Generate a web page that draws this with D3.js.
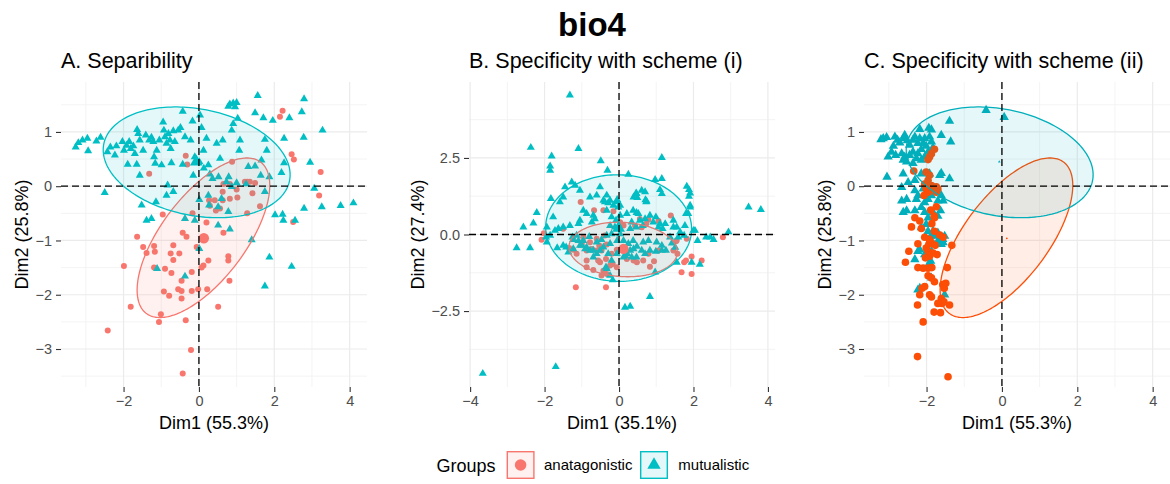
<!DOCTYPE html>
<html>
<head>
<meta charset="utf-8">
<script src="https://cdn.jsdelivr.net/npm/d3@7"></script>
<style>
  body { margin: 0; background: #fff; }
  svg { display: block; }
  text { font-family: "Liberation Sans", Arial, Helvetica, sans-serif; }
</style>
</head>
<body>
<svg id="chart" width="1170" height="484"></svg>
<script>
// ---------------------------------------------------------------
// Titles, groups and tick labels
// ---------------------------------------------------------------
const mainTitle = "bio4";
const groups = ["anatagonistic", "mutualistic"];
const panelTitles = ["A. Separibility", "B. Specificity with scheme (i)", "C. Specificity with scheme (ii)"];
const xTitles = ["Dim1 (55.3%)", "Dim1 (35.1%)", "Dim1 (55.3%)"];
const yTitles = ["Dim2 (25.8%)", "Dim2 (27.4%)", "Dim2 (25.8%)"];

const xTicksAC = [-2, 0, 2, 4];
const xTickLabelsAC = ["\u22122", "0", "2", "4"];
const yTicksAC = [-3, -2, -1, 0, 1];
const yTickLabelsAC = ["\u22123", "\u22122", "\u22121", "0", "1"];
const xTicksB = [-4, -2, 0, 2, 4];
const xTickLabelsB = ["\u22124", "\u22122", "0", "2", "4"];
const yTicksB = [-2.5, 0, 2.5];
const yTickLabelsB = ["\u22122.5", "0.0", "2.5"];

// ---------------------------------------------------------------
// Individuals on the first two dimensions (Dim1, Dim2)
// ---------------------------------------------------------------
// A: separability
const aAnt = [
  [2.22,1.39],[2.15,1.28],[2.46,0.59],[2.52,0.49],[3.23,0.26],[3.19,-0.17],[-0.35,0.56],[-0.31,0.40],
  [-1.32,0.23],[0.88,0.45],[1.28,0.08],[1.49,0.06],[1.22,0.08],[1.35,0.08],[0.65,0.04],[0.82,0.04],
  [1.0,-0.06],[0.63,-0.10],[1.42,-0.13],[0.42,-0.26],[0.63,-0.26],[0.82,-0.23],[1.02,-0.21],[0.27,-0.26],
  [0.29,-0.36],[0.56,-0.41],[0.45,-0.45],[1.62,-0.37],[1.28,-0.50],[2.50,-0.66],[-0.96,-0.52],[-0.17,-0.50],
  [0.20,-0.67],[-0.43,-0.86],[-0.33,-0.93],[-1.64,-0.93],[0.65,-0.86],[-1.48,-1.12],[-1.19,-1.10],[-1.39,-1.23],
  [-0.68,-1.09],[-1.17,-1.21],[-0.75,-1.24],[-0.68,-1.36],[-0.52,-1.24],[0.78,-1.29],[0.78,-1.37],[0.25,-1.37],
  [0.07,-1.50],[0.12,-1.46],[-1.19,-1.50],[-0.90,-1.52],[-0.73,-1.60],[-1.99,-1.47],[-0.19,-1.58],[0.81,-1.74],
  [-0.46,-1.74],[-0.93,-1.94],[-0.79,-2.02],[-0.55,-1.90],[-0.46,-1.93],[-0.46,-2.07],[-0.19,-1.93],[-0.02,-1.90],
  [0.22,-1.90],[-1.81,-2.22],[0.51,-2.22],[-1.01,-2.36],[-1.06,-2.50],[-0.35,-2.47],[-2.42,-2.66],[-0.21,-3.02],
  [-0.43,-3.45],[-0.06,-1.12]
];
const aMut = [
  [1.56,1.67],[2.79,1.61],[0.82,1.51],[0.91,1.53],[1.0,1.54],[0.78,1.47],[0.96,1.46],[-0.43,1.38],[0.03,1.31],
  [1.49,1.35],[1.71,1.26],[1.96,1.21],[2.40,1.26],[2.73,1.37],[1.03,1.25],[0.91,1.15],[-0.95,1.18],[-0.17,1.20],
  [3.28,1.03],[2.26,0.88],[2.78,0.90],[1.75,0.86],
  [-3.27,0.72],[-3.20,0.80],[-3.09,0.85],[-2.96,0.88],[-2.94,0.65],[-2.72,0.83],[-2.61,0.90],[-2.43,0.63],
  [-2.35,0.72],[-2.23,0.57],[-2.19,0.74],[-2.03,0.82],[-1.99,0.66],[-1.92,0.75],[-1.85,0.82],[-1.81,0.69],
  [-1.74,0.74],[-1.70,0.60],[-1.89,0.40],[-1.65,0.40],[-1.64,1.04],[-1.61,0.97],[-1.57,0.85],[-1.57,0.20],
  [-1.48,0.66],[-1.41,0.94],[-1.32,0.85],[-1.26,0.90],[-1.21,0.82],[-1.19,0.54],[-1.16,0.42],[-1.12,0.66],
  [-1.05,0.85],[-0.99,0.39],[-0.93,1.03],[-0.90,0.91],[-0.86,0.79],[-0.81,0.97],[-0.77,0.85],[-0.75,0.69],
  [-0.73,0.43],[-0.68,1.02],[-0.64,0.82],[-0.55,1.03],[-0.49,1.08],[-0.43,0.40],[-0.37,0.91],[-0.22,0.85],
  [-0.15,0.20],[-0.11,0.54],[0.01,0.45],[0.07,1.08],[0.12,0.66],[0.13,0.33],[0.20,0.88],[0.25,0.39],
  [0.29,0.22],[0.47,0.79],[0.56,0.51],[0.63,0.85],[0.79,0.17],[0.87,1.03],[1.07,0.66],[1.09,0.85],
  [1.31,0.36],[1.49,0.37],[1.66,0.48],[1.80,0.66],[1.64,0.20],[1.87,0.17],[2.19,0.25],[2.26,0.43],[2.95,0.44],
  [3.06,-0.04],[-2.50,-0.12],[-1.52,-0.35],[-1.39,-0.63],[-1.26,-0.60],[-0.86,-0.17],[-0.83,0.02],[-0.68,-0.10],
  [-0.37,-0.60],[-0.11,-0.63],[0.01,-0.25],[0.51,-0.38],[0.60,-0.23],[0.78,-0.47],[0.87,-0.01],[1.00,0.06],
  [1.25,0.04],[1.75,-0.10],[0.51,-0.72],[0.82,-0.79],[1.40,-0.99],[0.01,-1.15],[-1.11,-1.52],[-0.37,-1.66],
  [1.87,-1.31],[2.46,-1.48],[1.75,-1.84],[2.02,-0.53],[2.22,-0.52],[2.24,-0.63],[2.55,-0.63],[2.79,-0.41],
  [3.26,-0.38],[3.76,-0.36],[4.10,-0.31],[0.25,-0.17],[0.36,0.14],[0.52,0.17],[0.73,0.08],[-1.14,-0.29],[0.27,-0.35]
];

// B: specificity with scheme (i)
const bAnt = [
  [-1.03,1.06],[-0.42,0.79],[-0.15,0.76],[-0.67,0.79],[0.79,0.48],[1.39,0.62],[-2.08,-0.17],[-2.02,0.04],
  [-1.23,-0.50],[-1.14,-0.63],[-0.87,-0.52],[-0.73,-0.47],[-0.60,-0.52],[-0.53,-0.36],[-0.33,-0.33],[-0.96,-0.09],
  [-0.78,-0.25],[-0.60,-0.14],[-0.38,-0.03],[-0.87,-0.85],[-0.69,-1.16],[-0.51,-0.91],[-0.35,-0.80],[-0.17,-0.96],
  [-0.33,-1.29],[-0.42,-1.18],[0.21,-0.80],[0.39,-0.85],[0.65,-0.85],[0.79,-0.63],[0.94,-0.87],[1.06,-0.52],
  [1.53,-0.22],[1.46,-0.52],[1.57,-0.63],[1.82,-0.14],[1.75,-0.91],[1.80,-0.85],[1.95,-0.72],[2.22,-0.85],
  [1.68,-1.23],[1.95,-1.29],[2.79,-0.09],[-1.16,-1.72],[-0.35,-1.72],[0.12,0.29],[0.03,0.40],[0.43,0.29],
  [0.61,0.24],[-1.50,0.19],[1.06,0.44],[0.56,0.51],[0.73,0.35],[1.55,-0.20],[-0.47,-0.52],[-0.20,-0.63],
  [-0.06,-0.50],[-0.56,-0.85],[-0.24,-1.01],[-0.06,-1.07],[-0.87,-1.07],[-0.47,-1.34],[0.48,-0.91],[0.83,-1.05],
  [-1.00,-0.30],[-1.34,-0.44]
];
const bMut = [
  [-1.32,4.55],[-2.37,2.84],[-1.09,2.80],[-1.81,2.56],[-1.85,2.23],[-1.85,2.09],[1.15,2.51],[-0.49,2.40],
  [-0.31,2.09],[0.25,1.96],[0.97,1.79],[1.15,1.82],[-1.27,1.71],[-1.45,1.55],[-1.18,1.60],[-1.05,1.44],
  [-0.51,1.55],[1.82,1.57],[1.88,1.46],[1.91,1.35],[1.88,1.24],[0.61,1.44],[0.47,1.33],[0.39,1.22],
  [1.15,1.33],[1.10,1.46],[-1.83,1.17],[-0.60,1.28],[-0.78,1.22],[-0.42,1.11],[-0.29,1.03],[0.73,1.06],
  [0.71,1.13],[-0.33,1.28],[-0.06,1.06],[0.03,0.95],[-1.59,1.06],[-1.50,1.22],[-2.21,0.71],[-2.30,0.37],
  [-2.57,0.24],[-2.75,-0.44],[-2.39,-0.44],[-1.94,-0.25],[-1.96,-0.09],[-1.77,0.57],[-1.63,0.19],[-1.32,0.29],
  [-1.25,-0.09],[-1.05,0.46],[-0.96,0.79],[-0.87,0.68],[-0.69,0.62],[-0.73,0.40],[-0.33,0.79],[-0.20,0.57],
  [-0.24,0.29],[-0.11,0.24],[0.21,0.68],[0.34,0.40],[0.47,0.71],[0.30,0.19],[0.92,0.40],[1.06,0.24],
  [1.24,0.35],[1.46,0.46],[1.46,0.24],[1.59,-0.09],[1.77,0.29],[1.80,0.68],[1.91,0.89],[2.04,0.13],
  [2.11,-0.20],[2.34,-0.09],[2.54,-0.17],[2.94,0.08],[3.48,0.89],[3.81,0.81],[-1.42,-0.41],[-1.23,-0.47],
  [-1.09,-0.20],[-1.00,-0.36],[-0.91,-0.47],[-0.78,-0.52],[-0.69,-0.74],[-0.60,-0.63],[-0.42,-0.41],[-0.29,-0.63],
  [-0.20,-0.85],[-0.06,-0.63],[0.12,-0.74],[0.22,-0.63],[0.39,-0.47],[0.47,-0.74],[0.61,-0.52],[0.65,-0.25],
  [0.79,-0.20],[0.99,-0.55],[1.15,-0.52],[1.26,-0.52],[1.37,-0.09],[-0.33,-1.12],[-0.17,-1.48],[1.95,-0.91],
  [2.17,-0.98],[0.97,-1.23],[0.83,-2.03],[0.16,-2.38],[0.30,-2.35],[-3.66,-4.54],[-1.70,-4.32],
  [-0.38,1.06],[-0.24,1.11],[-0.05,1.14],[-0.15,0.95],[0.46,1.35],[0.49,1.20],[0.74,1.09],[0.70,1.39],
  [1.86,0.68],[1.91,0.95],[-0.65,0.51],[-1.09,0.35],[-1.50,0.24],[-1.72,0.13],[-1.85,-0.03],[-1.94,0.24],
  [-0.02,0.89],[0.03,0.62],[-0.08,0.46],[-0.02,0.24],[0.03,0.02],[-0.05,-0.20],[0.38,0.79],[0.52,0.68],
  [0.56,0.46],[0.70,0.51],[0.83,0.62],[0.99,0.57],[0.46,0.24],[0.64,0.29],[1.10,0.35],[1.17,0.19],
  [1.55,0.24],[1.64,0.08],[1.75,-0.03],[2.00,0.13],[2.45,-0.09],[-1.50,-0.36],[-1.66,-0.44],[-1.36,-0.58],
  [-1.14,-0.03],[-0.96,-0.20],[-0.80,-0.07],[-0.60,-0.25],[-0.47,-0.17],[-0.33,-0.03],[-0.20,0.02],[-0.87,-0.42],
  [-0.69,-0.52],[-0.51,-0.52],[-0.24,-0.30],[0.12,-0.20],[0.25,-0.30],[0.38,-0.20],[0.48,-0.39],[0.30,-0.52],
  [0.16,-0.69],[0.34,-0.74],[0.70,-0.63],[0.83,-0.52],[1.01,-0.25],[1.15,-0.36],[1.42,-0.28],[1.51,-0.42],
  [1.55,-0.91],[-0.35,-1.07],[-0.24,-1.34],[-1.23,-0.17],[-1.05,-0.36]
];

// C: specificity with scheme (ii)
const cAnt = [
  [-1.79,0.68],[-1.87,0.60],[-1.92,0.54],[-1.96,0.49],[-2.34,0.28],[-2.01,0.26],[-1.92,0.20],[-2.05,0.04],
  [-2.01,-0.05],[-1.96,-0.11],[-1.92,-0.02],[-1.87,0.01],[-1.83,-0.05],[-1.79,-0.02],[-1.74,-0.01],[-1.70,-0.05],
  [-1.74,-0.11],[-1.96,0.11],[-2.07,-0.17],[-1.89,-0.44],[-1.74,-0.38],[-1.80,-0.55],[-1.79,-0.58],[-2.31,-0.58],
  [-2.18,-0.64],[-2.40,-0.75],[-2.14,-0.78],[-1.86,-0.69],[-1.79,-0.83],[-1.65,-0.90],[-1.56,-0.94],[-2.05,-0.94],
  [-1.92,-0.98],[-1.94,-1.07],[-2.01,-1.14],[-1.87,-1.04],[-1.77,-1.09],[-1.72,-1.26],[-1.83,-1.23],[-1.92,-1.29],
  [-2.03,-1.32],[-1.96,-1.20],[-2.23,-1.06],[-2.47,-1.20],[-2.56,-1.40],[-1.33,-1.09],[-2.23,-1.50],[-2.09,-1.51],
  [-1.96,-1.51],[-1.86,-1.50],[-1.45,-1.50],[-1.96,-1.65],[-1.87,-1.69],[-1.79,-1.76],[-1.57,-1.81],[-1.49,-1.79],
  [-1.53,-1.88],[-2.05,-1.85],[-2.12,-1.88],[-2.18,-2.00],[-1.92,-2.00],[-1.87,-2.04],[-1.61,-2.07],[-1.59,-2.16],
  [-1.70,-2.16],[-1.54,-2.13],[-1.39,-2.19],[-2.24,-2.19],[-1.80,-2.32],[-1.63,-2.33],[-2.09,-2.50],[-2.24,-3.14],
  [-1.43,-3.51]
];
const cMut = [
  [-0.42,1.40],[0.06,1.27],[-1.39,1.20],[-2.18,1.05],[-1.94,1.07],[-1.87,1.04],[-1.61,0.94],[-1.36,0.82],
  [-3.21,0.86],[-3.06,0.90],[-3.02,0.54],[-3.05,0.17],[-1.65,0.20],[-1.39,0.14],[-1.96,-0.83],[-1.79,-0.89],
  [-1.70,-1.01],[-1.61,-1.07],[-1.57,-0.98],[-1.52,-0.92],[-2.31,-1.35],[-2.23,-1.20],[-1.89,-1.38],[-2.18,-1.88],
  [-1.52,-2.00],[-3.15,0.88],
  [-2.84,0.91],[-2.77,0.85],[-2.88,0.74],[-2.71,0.80],[-2.62,0.88],[-2.58,0.94],[-2.51,0.84],[-2.45,0.76],
  [-2.36,0.85],[-2.31,0.91],[-2.23,0.79],[-2.18,0.88],[-2.14,0.68],[-2.09,0.79],[-2.05,0.88],[-2.01,0.74],
  [-1.96,0.63],[-1.92,0.91],[-1.87,0.82],[-1.83,0.71],
  [-2.93,0.63],[-2.82,0.57],[-2.66,0.60],[-2.58,0.54],[-2.45,0.57],[-2.36,0.63],[-2.27,0.51],[-2.23,0.60],
  [-2.14,0.48],[-2.05,0.54],[-2.36,0.42],[-2.53,0.45],[-2.62,0.48],
  [-2.62,0.23],[-2.66,-0.02],[-2.49,0.07],[-2.31,0.11],[-2.14,0.23],[-1.92,0.23],[-1.61,0.24],
  [-2.66,-0.27],[-2.53,-0.24],[-2.62,-0.48],[-2.27,-0.24],[-2.31,-0.08],[-2.09,-0.05],[-2.23,-0.17],[-2.14,-0.39],
  [-2.05,-0.30],[-1.96,-0.24],[-1.87,-0.17],[-1.70,-0.27],[-1.61,-0.17],[-1.56,-0.27],
  [-2.53,-0.45],[-2.31,-0.45],[-2.05,-0.48],[-1.96,-0.58],[-1.83,-0.48],[-1.70,-0.55],[-1.63,-0.45],
  [-2.14,-0.76],[-2.01,-0.70],[-1.89,-0.92],[-1.83,-0.83],[-1.70,-0.86],[-1.56,-1.04],[-1.65,-1.01],[-1.74,-0.92],
  [-2.18,-1.17],[-2.05,-1.26],[-1.96,-1.32],[-1.92,-1.41],[-1.87,-1.20],[-2.23,-1.91],[-1.87,-1.69]
];

// Group centres (mean points)
const aAntMean = [0.13, -0.96];
const aMutMean = [-0.07, 0.45];
const bAntMean = [0.12, -0.47];
const bMutMean = [-0.01, 0.21];

// Concentration ellipses: [centre x, centre y, x half-width, y shear, y half-height]
const ellipseAntAC = [0.12, -0.95, 1.76, 0.965, 1.109];
const ellipseMutAC = [-0.06, 0.44, 2.48, -0.23, 0.994];
const ellipseAntB = [0.11, -0.49, 1.455, -0.08, 0.886];
const ellipseMutB = [-0.01, 0.21, 1.96, -0.03, 1.74];

// ---------------------------------------------------------------
// Layout and styles
// ---------------------------------------------------------------
const svg = d3.select("#chart");
svg.append("rect").attr("width", 1170).attr("height", 484).attr("fill", "#ffffff");

const plotTop = 82, plotBottom = 387;
const paletteDefault = ["#F8766D", "#00BFC4"];
const paletteScheme2 = ["#FC4E07", "#00AFBB"];

const panels = [
  { left: 61, right: 367, yTitleX: 27.5, xDomain: [-3.66, 4.46], yDomain: [-3.70, 1.92],
    xTicks: xTicksAC, xLabels: xTickLabelsAC, yTicks: yTicksAC, yLabels: yTickLabelsAC,
    ant: aAnt, mut: aMut, antMean: aAntMean, mutMean: aMutMean, meanR: 5.2, meanTri: 70,
    ellAnt: ellipseAntAC, ellMut: ellipseMutAC, colors: paletteDefault, r: 3.0, tri: 28, mutFirst: false },
  { left: 469, right: 775, yTitleX: 423.5, xDomain: [-4.03, 4.19], yDomain: [-4.98, 4.98],
    xTicks: xTicksB, xLabels: xTickLabelsB, yTicks: yTicksB, yLabels: yTickLabelsB,
    ant: bAnt, mut: bMut, antMean: bAntMean, mutMean: bMutMean, meanR: 5.2, meanTri: 70,
    ellAnt: ellipseAntB, ellMut: ellipseMutB, colors: paletteDefault, r: 3.0, tri: 28, mutFirst: false },
  { left: 864, right: 1170, yTitleX: 831, xDomain: [-3.66, 4.46], yDomain: [-3.70, 1.92],
    xTicks: xTicksAC, xLabels: xTickLabelsAC, yTicks: yTicksAC, yLabels: yTickLabelsAC,
    ant: cAnt, mut: cMut, antMean: aAntMean, mutMean: aMutMean, meanR: 0.9, meanTri: 3,
    ellAnt: ellipseAntAC, ellMut: ellipseMutAC, colors: paletteScheme2, r: 3.8, tri: 38, mutFirst: true }
];

function minorTicks(major, domain) {
  const step = major[1] - major[0];
  const out = [];
  for (let v = major[0] - step * 3 - step / 2; v <= domain[1] + 1e-9; v += step) {
    if (v >= domain[0] && v <= domain[1]) out.push(+v.toFixed(4));
  }
  return out;
}

function ellipsePoints(e) {
  const [cx, cy, ax, bx, by] = e;
  return d3.range(0, 361, 2).map(deg => {
    const t = deg * Math.PI / 180;
    return [cx + ax * Math.cos(t), cy + bx * Math.cos(t) + by * Math.sin(t)];
  });
}

panels.forEach((p, i) => {
  const x = d3.scaleLinear().domain(p.xDomain).range([p.left, p.right]);
  const y = d3.scaleLinear().domain(p.yDomain).range([plotBottom, plotTop]);
  const g = svg.append("g");

  // grid
  const grid = g.append("g");
  minorTicks(p.xTicks, p.xDomain).forEach(v => grid.append("line")
    .attr("x1", x(v)).attr("x2", x(v)).attr("y1", plotTop).attr("y2", plotBottom)
    .attr("stroke", "#F0F0F0").attr("stroke-width", 0.8));
  minorTicks(p.yTicks, p.yDomain).forEach(v => grid.append("line")
    .attr("x1", p.left).attr("x2", p.right).attr("y1", y(v)).attr("y2", y(v))
    .attr("stroke", "#F0F0F0").attr("stroke-width", 0.8));
  p.xTicks.forEach(v => grid.append("line")
    .attr("x1", x(v)).attr("x2", x(v)).attr("y1", plotTop).attr("y2", plotBottom)
    .attr("stroke", "#EBEBEB").attr("stroke-width", 1.2));
  p.yTicks.forEach(v => grid.append("line")
    .attr("x1", p.left).attr("x2", p.right).attr("y1", y(v)).attr("y2", y(v))
    .attr("stroke", "#EBEBEB").attr("stroke-width", 1.2));

  // axes
  const xAxis = d3.axisBottom(x).tickValues(p.xTicks).tickSize(5).tickPadding(4)
    .tickFormat((d, k) => p.xLabels[k]);
  const yAxis = d3.axisLeft(y).tickValues(p.yTicks).tickSize(5).tickPadding(4)
    .tickFormat((d, k) => p.yLabels[k]);
  const gx = g.append("g").attr("transform", `translate(0,${plotBottom})`).call(xAxis);
  const gy = g.append("g").attr("transform", `translate(${p.left},0)`).call(yAxis);
  [gx, gy].forEach(a => {
    a.select(".domain").remove();
    a.selectAll(".tick line").attr("stroke", "#333333").attr("stroke-width", 1.1);
    a.selectAll(".tick text").attr("fill", "#4D4D4D").style("font-size", "14.5px")
      .style("font-family", '"Liberation Sans", Arial, sans-serif');
  });
  gx.selectAll(".tick text").attr("dy", "0.72em");

  // points
  const [cAntCol, cMutCol] = p.colors;
  const drawAnt = () => g.append("g").selectAll("circle").data(p.ant).join("circle")
    .attr("cx", d => x(d[0])).attr("cy", d => y(d[1])).attr("r", p.r).attr("fill", cAntCol);
  const tri = d3.symbol().type(d3.symbolTriangle).size(p.tri);
  const drawMut = () => g.append("g").selectAll("path").data(p.mut).join("path")
    .attr("d", tri).attr("transform", d => `translate(${x(d[0])},${y(d[1])})`).attr("fill", cMutCol);
  if (p.mutFirst) { drawMut(); drawAnt(); } else { drawAnt(); drawMut(); }

  // concentration ellipses
  const line = d3.line().x(d => x(d[0])).y(d => y(d[1])).curve(d3.curveLinearClosed);
  [[p.ellAnt, cAntCol], [p.ellMut, cMutCol]].forEach(([e, col]) => {
    g.append("path").attr("d", line(ellipsePoints(e)))
      .attr("fill", col).attr("fill-opacity", 0.1)
      .attr("stroke", col).attr("stroke-width", 1.3);
  });

  // group centres
  g.append("circle").attr("cx", x(p.antMean[0])).attr("cy", y(p.antMean[1]))
    .attr("r", p.meanR).attr("fill", cAntCol);
  g.append("path").attr("d", d3.symbol().type(d3.symbolTriangle).size(p.meanTri)())
    .attr("transform", `translate(${x(p.mutMean[0])},${y(p.mutMean[1])})`).attr("fill", cMutCol);

  // reference lines at the origin
  g.append("line").attr("x1", p.left).attr("x2", p.right).attr("y1", y(0)).attr("y2", y(0))
    .attr("stroke", "#000").attr("stroke-width", 1.3).attr("stroke-dasharray", "7,4");
  g.append("line").attr("x1", x(0)).attr("x2", x(0)).attr("y1", plotTop).attr("y2", plotBottom)
    .attr("stroke", "#000").attr("stroke-width", 1.3).attr("stroke-dasharray", "7,4");

  // titles
  g.append("text").attr("x", p.left).attr("y", 67.5).attr("fill", "#000")
    .style("font-size", "21.5px").text(panelTitles[i]);
  g.append("text").attr("x", (p.left + p.right) / 2).attr("y", 428.5).attr("text-anchor", "middle")
    .attr("fill", "#000").style("font-size", "18px").text(xTitles[i]);
  g.append("text").attr("transform", `translate(${p.yTitleX},${(plotTop + plotBottom) / 2}) rotate(-90)`)
    .attr("text-anchor", "middle").attr("fill", "#000").style("font-size", "18px").text(yTitles[i]);
});

// main title
svg.append("text").attr("x", 592).attr("y", 36).attr("text-anchor", "middle")
  .style("font-size", "33px").style("font-weight", "bold").attr("fill", "#000").text(mainTitle);

// legend
const legend = svg.append("g");
legend.append("text").attr("x", 436.5).attr("y", 471.5).style("font-size", "18px").attr("fill", "#000").text("Groups");
const keyX = [507.3, 640.7];
const labelX = [544, 678.3];
groups.forEach((grp, k) => {
  const col = paletteDefault[k];
  legend.append("rect").attr("x", keyX[k]).attr("y", 451.7).attr("width", 26.6).attr("height", 26.6)
    .attr("fill", col).attr("fill-opacity", 0.1).attr("stroke", col).attr("stroke-width", 1.4);
  const cx = keyX[k] + 13.3, cy = 465;
  if (k === 0) {
    legend.append("circle").attr("cx", cx).attr("cy", cy).attr("r", 5.8).attr("fill", col);
  } else {
    legend.append("path").attr("d", d3.symbol().type(d3.symbolTriangle).size(78)())
      .attr("transform", `translate(${cx},${cy})`).attr("fill", col);
  }
  legend.append("text").attr("x", labelX[k]).attr("y", 469.5).style("font-size", "15px")
    .attr("fill", "#000").text(grp);
});
</script>
</body>
</html>
